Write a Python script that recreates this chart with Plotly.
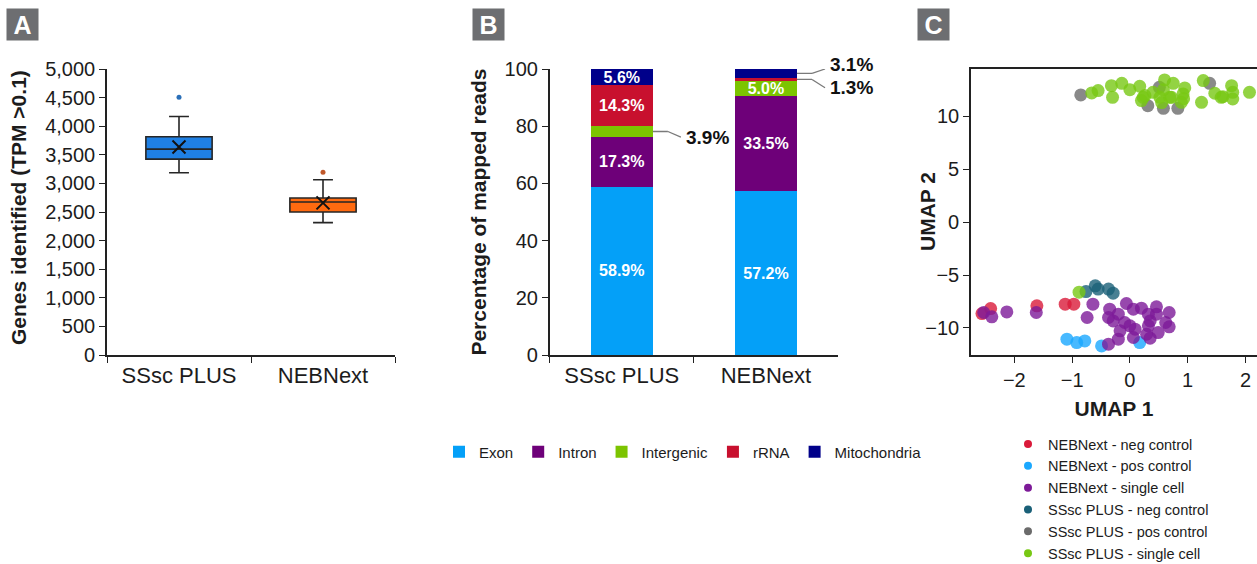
import plotly.graph_objects as go

# ---------------- data ----------------
# Panel A: genes identified (box statistics)
groups = ["SSsc PLUS", "NEBNext"]
box_q1 = [3425, 2500]
box_median = [3600, 2675]
box_q3 = [3815, 2745]
box_lower = [3185, 2315]
box_upper = [4170, 3065]
box_mean = [3635, 2660]
ssc_outliers = [4505]
neb_outliers = [3195]

# Panel B: percentage of mapped reads
read_types = ["Exon", "Intron", "Intergenic", "rRNA", "Mitochondria"]
ssc_pct = [58.9, 17.3, 3.9, 14.3, 5.6]
neb_pct = [57.2, 33.5, 5.0, 1.3, 3.1]

# Panel C: UMAP coordinates
neb_neg_x = [-2.56, -2.41, -1.61, -1.12, -0.97]
neb_neg_y = [-8.64, -8.17, -7.91, -7.75, -7.75]
neb_pos_x = [-1.09, -0.92, -0.78, -0.49, 0.17]
neb_pos_y = [-11.06, -11.38, -11.22, -11.69, -11.38]
neb_sc_x = [-2.53, -2.39, -2.13, -1.62, -0.64, -0.74, -0.35, -0.37, -0.20, -0.06, 0.06, 0.20,
            0.32, 0.46, 0.68, -0.09, 0.00, -0.17, 0.09, 0.35, 0.32, 0.62, 0.68, 0.49, 0.29,
            0.35, 0.06, -0.20, -0.37, 0.46, -0.29]
neb_sc_y = [-8.54, -8.95, -8.48, -8.54, -7.75, -9.01, -8.22, -9.01, -8.70, -7.69, -8.22, -8.13,
            -8.70, -8.00, -8.54, -9.48, -9.80, -10.27, -10.11, -9.33, -9.80, -9.48, -9.89, -10.43,
            -10.59, -10.96, -10.90, -11.06, -11.53, -8.70, -9.33]
ssc_neg_x = [-0.76, -0.60, -0.55, -0.37, -0.29]
ssc_neg_y = [-6.56, -6.02, -6.33, -6.33, -6.71]
ssc_pos_x = [-0.85, 0.51, 0.31, 0.58, 0.83, 1.38]
ssc_pos_y = [12.00, 12.72, 10.99, 10.74, 10.74, 13.10]
ssc_sc_x = [-0.66, -0.55, -0.32, -0.14, 0.00, 0.17, -0.30, 0.40, 0.23, 0.20, 0.26, 0.60, 0.75,
            0.95, 0.92, 0.52, 0.55, 0.72, 0.89, 0.93, 0.58, 0.69, 1.27, 1.24, 1.47, 1.61, 1.76,
            1.78, 1.78, 2.07, 1.58, -0.88]
ssc_sc_y = [12.19, 12.41, 12.88, 13.10, 12.50, 12.82, 11.78, 12.25, 11.78, 11.47, 11.94, 13.42, 13.10,
            12.66, 12.10, 11.78, 11.28, 11.78, 11.30, 11.65, 12.48, 11.78, 13.36, 11.30, 12.16, 11.84, 12.88,
            12.25, 11.62, 12.25, 11.78, -6.62]

umap_names = ["NEBNext - neg control", "NEBNext - pos control", "NEBNext - single cell",
              "SSsc PLUS - neg control", "SSsc PLUS - pos control", "SSsc PLUS - single cell"]

# ---------------- styles ----------------
FONT = "Liberation Sans, Arial, Helvetica, sans-serif"
INK = "#1c1c1c"
box_fill = ["#1F80E4", "#FF6A10"]
outlier_colors = ["#2A6FB8", "#C0582A"]
read_colors = ["#04A0F8", "#6E0079", "#7CC400", "#C8102E", "#00008A"]
umap_colors = ["#DA1A3A", "#1AA8FF", "#7D1A98", "#1A6078", "#6B6B6B", "#78C814"]

W, H = 1257, 564
fig = go.Figure()

# ---------------- Panel A ----------------
for i, g in enumerate(groups):
    fig.add_trace(go.Box(
        x=[g], q1=[box_q1[i]], median=[box_median[i]], q3=[box_q3[i]],
        lowerfence=[box_lower[i]], upperfence=[box_upper[i]],
        fillcolor=box_fill[i], line=dict(color="#262626", width=1.6),
        width=0.46, whiskerwidth=0.3, boxpoints=False, showlegend=False,
        xaxis="x", yaxis="y", hoverinfo="skip"))
for i, (g, outs) in enumerate(zip(groups, [ssc_outliers, neb_outliers])):
    fig.add_trace(go.Scatter(
        x=[g] * len(outs), y=outs, mode="markers", showlegend=False,
        marker=dict(size=5, color=outlier_colors[i]), xaxis="x", yaxis="y"))
fig.add_trace(go.Scatter(
    x=groups, y=box_mean, mode="markers", showlegend=False,
    marker=dict(symbol="x-thin", size=13, line=dict(width=2, color="#111111")),
    xaxis="x", yaxis="y"))

# ---------------- Panel B ----------------
for i, rt in enumerate(read_types):
    vals = [ssc_pct[i], neb_pct[i]]
    fig.add_trace(go.Bar(
        x=groups, y=vals, name=rt, marker=dict(color=read_colors[i], line=dict(width=0)),
        text=[f"{v:.1f}%" if v >= 4.5 else "" for v in vals],
        textposition="inside", insidetextanchor="middle", textangle=0,
        constraintext="none", cliponaxis=False,
        textfont=dict(color="white", size=16, family=FONT, weight="bold"),
        xaxis="x2", yaxis="y2", legend="legend"))

PX_PER_PCT = (355 - 69) / 100.0
BAR_HALF = 0.215
shapes = []
annotations = []
small_labels = [
    (0, sum(ssc_pct[:2]) + ssc_pct[2] / 2, ssc_pct[2], -2.0),
    (1, 100 - neb_pct[4] / 2, neb_pct[4], 3.0),
    (1, sum(neb_pct[:3]) + neb_pct[3] / 2, neb_pct[3], -2.9),
]
for idx, yc, val, dy in small_labels:
    yl = yc + dy
    y_end = min(yl, 100.0)
    shapes.append(dict(type="line", xref="x2", yref="y2", x0=idx + BAR_HALF, x1=idx + 0.32,
                       y0=yc, y1=yc, line=dict(color="#7a7a7a", width=1.3)))
    shapes.append(dict(type="line", xref="x2", yref="y2", x0=idx + 0.32, x1=idx + 0.41,
                       y0=yc, y1=y_end, line=dict(color="#7a7a7a", width=1.3)))
    annotations.append(dict(xref="x2", yref="y2", x=idx + 0.43, y=yc, yshift=dy * PX_PER_PCT,
                            text=f"{val:.1f}%", showarrow=False, xanchor="left", yanchor="middle",
                            font=dict(size=19, color="#111111", family=FONT, weight="bold")))

# ---------------- Panel C ----------------
umap_x = [neb_neg_x, neb_pos_x, neb_sc_x, ssc_neg_x, ssc_pos_x, ssc_sc_x]
umap_y = [neb_neg_y, neb_pos_y, neb_sc_y, ssc_neg_y, ssc_pos_y, ssc_sc_y]
for name, xs, ys, c in zip(umap_names, umap_x, umap_y, umap_colors):
    fig.add_trace(go.Scatter(
        x=xs, y=ys, mode="markers", name=name, showlegend=False,
        marker=dict(size=13, color=c, opacity=0.8, line=dict(width=0)),
        xaxis="x3", yaxis="y3"))
for name, c in zip(umap_names, umap_colors):
    fig.add_trace(go.Scatter(
        x=[None], y=[None], mode="markers", name=name, showlegend=True,
        marker=dict(size=8, color=c), xaxis="x3", yaxis="y3", legend="legend2"))

title_font = dict(size=21, color=INK, family=FONT, weight="bold")

# y-axis titles of panels A and C (placed as in the original)
annotations.append(dict(xref="paper", yref="paper", x=18 / W, y=(H - 208) / H,
                        text="Genes identified (TPM >0.1)", textangle=-90, showarrow=False,
                        xanchor="center", yanchor="middle", font=title_font))
annotations.append(dict(xref="paper", yref="paper", x=927 / W, y=(H - 212) / H,
                        text="UMAP 2", textangle=-90, showarrow=False,
                        xanchor="center", yanchor="middle", font=title_font))

# ---------------- panel letters ----------------
for letter, cx in [("A", 22.5), ("B", 488), ("C", 933)]:
    annotations.append(dict(xref="paper", yref="paper", x=cx / W, y=(H - 24.5) / H,
                            text=f"<b>{letter}</b>", showarrow=False, xanchor="center",
                            yanchor="middle", bgcolor="#6D6E71", width=29, height=29,
                            borderpad=1, font=dict(size=25, color="white", family=FONT)))

def dx(a, b):
    return [a / W, b / W]
ydom = [(H - 355) / H, (H - 69) / H]

axis_common = dict(showline=True, linecolor="#222222", linewidth=1.6, ticks="outside",
                   ticklen=6, tickwidth=1.4, tickcolor="#222222", showgrid=False,
                   zeroline=False, automargin=False,
                   tickfont=dict(size=20, color=INK, family=FONT))
cat_axis = dict(axis_common, type="category", categoryorder="array", categoryarray=groups,
                range=[-0.5, 1.5], tickson="boundaries", tickfont=dict(size=22, color=INK, family=FONT))

fig.update_layout(
    width=W, height=H, margin=dict(l=0, r=0, t=0, b=0, autoexpand=False),
    paper_bgcolor="white", plot_bgcolor="white",
    font=dict(family=FONT, color=INK),
    barmode="stack", bargap=0.57, boxmode="overlay",
    xaxis=dict(cat_axis, domain=dx(107, 395), anchor="y"),
    yaxis=dict(axis_common, domain=ydom, anchor="x", range=[0, 5000], dtick=500, tickformat=","),
    xaxis2=dict(cat_axis, domain=dx(549.7, 838), anchor="y2"),
    yaxis2=dict(axis_common, domain=ydom, anchor="x2", range=[0, 100], dtick=20,
                title=dict(text="Percentage of mapped reads", font=title_font, standoff=12)),
    xaxis3=dict(axis_common, domain=dx(971, 1257), anchor="y3", range=[-2.75, 2.2], dtick=1,
                mirror=True, title=dict(text="UMAP 1", font=title_font, standoff=12)),
    yaxis3=dict(axis_common, domain=ydom, anchor="x3", range=[-12.55, 14.45], dtick=5),
    legend=dict(orientation="h", x=683 / W, xanchor="center", y=(H - 452) / H, yanchor="middle",
                font=dict(size=15, color=INK, family=FONT), itemwidth=30, traceorder="normal",
                bgcolor="rgba(0,0,0,0)", itemclick=False, itemdoubleclick=False),
    legend2=dict(x=1008 / W, xanchor="left", y=(H - 428) / H, yanchor="top",
                 font=dict(size=14.5, color=INK, family=FONT), itemwidth=30, tracegroupgap=0,
                 bgcolor="rgba(0,0,0,0)", itemclick=False, itemdoubleclick=False),
    shapes=shapes, annotations=annotations,
)

fig.write_html("out.html", config={"displayModeBar": False},
               post_script="document.body.style.margin='0';")
